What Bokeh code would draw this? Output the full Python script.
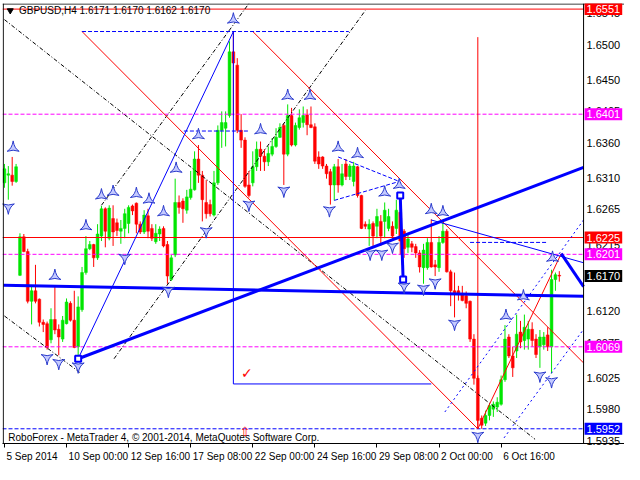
from bokeh.plotting import figure
from bokeh.models import ColumnDataSource, Range1d, FixedTicker, Label, Span, NumeralTickFormatter
from bokeh.core.properties import value
from bokeh.embed import file_html
from bokeh.resources import INLINE
import math

# ---- H4 candles (bar index 0 = 5 Sep 2014 08:00) ----
opens = [1.6303, 1.6314, 1.6314, 1.6305, 1.6171, 1.6226, 1.6205, 1.6134, 1.6149, 1.6137,
         1.6104, 1.6102, 1.6079, 1.6108, 1.6094, 1.6080, 1.6102, 1.6131, 1.6107, 1.6069,
         1.6122, 1.6175, 1.6209, 1.6215, 1.6196, 1.6227, 1.6266, 1.6224, 1.6252, 1.6246,
         1.6234, 1.6238, 1.6245, 1.6270, 1.6274, 1.6244, 1.6233, 1.6256, 1.6238, 1.6219,
         1.6230, 1.6238, 1.6215, 1.6165, 1.6200, 1.6275, 1.6277, 1.6264, 1.6282, 1.6293,
         1.6337, 1.6314, 1.6275, 1.6272, 1.6257, 1.6303, 1.6378, 1.6381, 1.6399, 1.6490,
         1.6471, 1.6378, 1.6364, 1.6300, 1.6303, 1.6326, 1.6351, 1.6341, 1.6333, 1.6344,
         1.6355, 1.6368, 1.6385, 1.6344, 1.6399, 1.6357, 1.6382, 1.6389, 1.6400, 1.6386,
         1.6383, 1.6340, 1.6340, 1.6327, 1.6319, 1.6300, 1.6326, 1.6300, 1.6330, 1.6312,
         1.6305, 1.6326, 1.6285, 1.6244, 1.6237, 1.6245, 1.6241, 1.6248, 1.6248, 1.6238,
         1.6241, 1.6238, 1.6261, 1.6234, 1.6211, 1.6216, 1.6212, 1.6203, 1.6182, 1.6182,
         1.6218, 1.6186, 1.6182, 1.6218, 1.6234, 1.6176, 1.6149, 1.6149, 1.6145, 1.6142,
         1.6134, 1.6080, 1.6024, 1.5967, 1.5960, 1.5971, 1.5980, 1.5983, 1.5987, 1.6022,
         1.6083, 1.6056, 1.6063, 1.6090, 1.6078, 1.6080, 1.6094, 1.6080, 1.6069, 1.6072,
         1.6086, 1.6069, 1.6165, 1.6171]
highs = [1.6330, 1.6327, 1.6340, 1.6330, 1.6231, 1.6230, 1.6209, 1.6156, 1.6186, 1.6138,
         1.6108, 1.6105, 1.6124, 1.6156, 1.6101, 1.6113, 1.6138, 1.6134, 1.6149, 1.6141,
         1.6183, 1.6227, 1.6220, 1.6216, 1.6244, 1.6270, 1.6268, 1.6271, 1.6271, 1.6252,
         1.6250, 1.6266, 1.6271, 1.6272, 1.6275, 1.6248, 1.6264, 1.6266, 1.6244, 1.6244,
         1.6241, 1.6241, 1.6220, 1.6200, 1.6309, 1.6285, 1.6281, 1.6293, 1.6320, 1.6348,
         1.6357, 1.6320, 1.6307, 1.6279, 1.6320, 1.6385, 1.6405, 1.6405, 1.6505, 1.6519,
         1.6481, 1.6401, 1.6368, 1.6320, 1.6348, 1.6362, 1.6362, 1.6351, 1.6355, 1.6367,
         1.6381, 1.6388, 1.6388, 1.6415, 1.6410, 1.6389, 1.6408, 1.6412, 1.6408, 1.6412,
         1.6388, 1.6348, 1.6341, 1.6330, 1.6323, 1.6330, 1.6337, 1.6330, 1.6337, 1.6330,
         1.6333, 1.6327, 1.6286, 1.6248, 1.6251, 1.6248, 1.6266, 1.6257, 1.6275, 1.6266,
         1.6248, 1.6279, 1.6282, 1.6237, 1.6230, 1.6220, 1.6216, 1.6207, 1.6216, 1.6224,
         1.6251, 1.6193, 1.6227, 1.6248, 1.6237, 1.6179, 1.6175, 1.6156, 1.6156, 1.6148,
         1.6135, 1.6087, 1.6028, 1.5971, 1.5978, 1.5987, 1.5991, 1.5997, 1.6028, 1.6100,
         1.6087, 1.6069, 1.6115, 1.6106, 1.6115, 1.6106, 1.6104, 1.6087, 1.6093, 1.6090,
         1.6097, 1.6179, 1.6175, 1.6177]
lows = [1.6296, 1.6279, 1.6299, 1.6303, 1.6170, 1.6204, 1.6131, 1.6101, 1.6131, 1.6098,
        1.6090, 1.6065, 1.6074, 1.6087, 1.6057, 1.6076, 1.6101, 1.6105, 1.6067, 1.6052,
        1.6119, 1.6172, 1.6207, 1.6183, 1.6193, 1.6220, 1.6211, 1.6221, 1.6213, 1.6227,
        1.6216, 1.6224, 1.6231, 1.6257, 1.6231, 1.6230, 1.6230, 1.6224, 1.6220, 1.6216,
        1.6220, 1.6211, 1.6159, 1.6163, 1.6197, 1.6259, 1.6246, 1.6259, 1.6279, 1.6292,
        1.6303, 1.6248, 1.6252, 1.6255, 1.6255, 1.6300, 1.6353, 1.6355, 1.6396, 1.6399,
        1.6374, 1.6353, 1.6296, 1.6282, 1.6298, 1.6320, 1.6320, 1.6320, 1.6327, 1.6341,
        1.6353, 1.6367, 1.6300, 1.6341, 1.6355, 1.6355, 1.6379, 1.6382, 1.6371, 1.6381,
        1.6330, 1.6323, 1.6323, 1.6309, 1.6272, 1.6278, 1.6289, 1.6298, 1.6307, 1.6307,
        1.6298, 1.6282, 1.6237, 1.6237, 1.6213, 1.6213, 1.6224, 1.6213, 1.6224, 1.6234,
        1.6220, 1.6230, 1.6200, 1.6196, 1.6203, 1.6204, 1.6196, 1.6175, 1.6159, 1.6179,
        1.6182, 1.6170, 1.6176, 1.6216, 1.6175, 1.6127, 1.6111, 1.6135, 1.6134, 1.6124,
        1.6076, 1.6015, 1.5952, 1.5952, 1.5956, 1.5964, 1.5969, 1.5976, 1.5985, 1.6019,
        1.6053, 1.6026, 1.6053, 1.6067, 1.6065, 1.6065, 1.6069, 1.6053, 1.6039, 1.6065,
        1.6063, 1.6031, 1.6149, 1.6162]
closes = [1.6323, 1.6316, 1.6305, 1.6326, 1.6226, 1.6205, 1.6134, 1.6149, 1.6134, 1.6104,
          1.6101, 1.6068, 1.6108, 1.6093, 1.6083, 1.6107, 1.6133, 1.6107, 1.6068, 1.6126,
          1.6175, 1.6209, 1.6215, 1.6196, 1.6230, 1.6266, 1.6234, 1.6267, 1.6233, 1.6235,
          1.6238, 1.6259, 1.6268, 1.6263, 1.6244, 1.6233, 1.6257, 1.6234, 1.6224, 1.6231,
          1.6237, 1.6213, 1.6170, 1.6196, 1.6275, 1.6268, 1.6266, 1.6283, 1.6294, 1.6337,
          1.6314, 1.6279, 1.6259, 1.6259, 1.6303, 1.6378, 1.6389, 1.6389, 1.6490, 1.6474,
          1.6378, 1.6364, 1.6298, 1.6285, 1.6326, 1.6351, 1.6341, 1.6333, 1.6345, 1.6355,
          1.6368, 1.6382, 1.6344, 1.6399, 1.6357, 1.6385, 1.6396, 1.6399, 1.6386, 1.6382,
          1.6334, 1.6330, 1.6327, 1.6316, 1.6300, 1.6326, 1.6300, 1.6316, 1.6312, 1.6327,
          1.6327, 1.6285, 1.6238, 1.6241, 1.6244, 1.6227, 1.6255, 1.6227, 1.6264, 1.6255,
          1.6227, 1.6264, 1.6220, 1.6209, 1.6223, 1.6211, 1.6203, 1.6183, 1.6207, 1.6218,
          1.6183, 1.6183, 1.6218, 1.6234, 1.6176, 1.6149, 1.6144, 1.6145, 1.6135, 1.6131,
          1.6080, 1.6024, 1.5964, 1.5957, 1.5971, 1.5985, 1.5987, 1.5990, 1.6022, 1.6080,
          1.6056, 1.6039, 1.6087, 1.6076, 1.6097, 1.6094, 1.6078, 1.6058, 1.6083, 1.6083,
          1.6069, 1.6165, 1.6172, 1.6170]

# ---- axes ----
date_tick_bars = [0, 16, 32, 48, 64, 80, 96, 112, 128]
date_tick_labels = ["5 Sep 2014", "10 Sep 00:00", "12 Sep 16:00", "17 Sep 08:00", "22 Sep 00:00",
                    "24 Sep 16:00", "29 Sep 08:00", "2 Oct 00:00", "6 Oct 16:00"]
# MT4 writes each date to the right of its tick: centre of each label, in bars
date_label_centers = [7.1, 24.2, 40.2, 56.2, 72.2, 88.2, 104.2, 119.2, 135.2]
price_ticks = [1.6545, 1.6500, 1.6450, 1.6405, 1.6360, 1.6310, 1.6265, 1.6215, 1.6170,
               1.6120, 1.6075, 1.6025, 1.5980, 1.5935]
last_bar_edge = 149.25      # right edge of the chart area (price scale starts here)
scale_end = 159.8           # right edge of the price-scale strip

# ---- horizontal levels ----
level_prices = [1.6551, 1.6401, 1.6225, 1.6201, 1.6069, 1.5952]
level_colors = ["#ff0000", "#ff00ff", "#ff0000", "#ff00ff", "#ff00ff", "#0000ff"]
level_dashes = ["solid", "4 2", "solid", "4 2", "4 2", "4 2"]
current_price = 1.6170

# ---- drawn objects (bar index, price) ----
blk_x0 = [0, 0, 25, 28.25]
blk_y0 = [1.6536, 1.6113, 1.6271, 1.6052]
blk_x1 = [136.75, 19.75, 63, 93]
blk_y1 = [1.5937, 1.6031, 1.6559, 1.6549]

red_x0 = [20, 64, 122, 122]
red_y0 = [1.6519, 1.6519, 1.5952, 1.6511]
red_x1 = [122, 149.25, 143.5, 122]
red_y1 = [1.5952, 1.6046, 1.6202, 1.5952]

bthin_x0 = [19, 59, 59, 110]
bthin_y0 = [1.6052, 1.6519, 1.6016, 1.6250]
bthin_x1 = [59, 59, 110, 149.25]
bthin_y1 = [1.6519, 1.6016, 1.6016, 1.6189]

bthick_x0 = [-0.25, 19, 143.5, 102]
bthick_y0 = [1.6157, 1.6052, 1.6202, 1.6285]
bthick_x1 = [149.25, 149.25, 149.25, 102.75]
bthick_y1 = [1.6141, 1.6325, 1.6155, 1.6165]

bdash_x0 = [20, 46.25, 120, 86, 85]
bdash_y0 = [1.6519, 1.6377, 1.6218, 1.6340, 1.6278]
bdash_x1 = [88.75, 63, 140, 101.75, 101.75]
bdash_y1 = [1.6519, 1.6377, 1.6218, 1.6305, 1.6305]

bdot_x0 = [113.5, 128.75]
bdot_y0 = [1.5976, 1.5939]
bdot_x1 = [149.25, 149.25]
bdot_y1 = [1.6250, 1.6094]

handle_x = [19, 102, 102.75]
handle_y = [1.6052, 1.6285, 1.6165]

frac_up_x = [2.25, 13, 21, 25, 28, 34, 37.25, 41, 44.25, 50, 59, 66, 73, 78.75, 86, 91, 98,
             101.75, 110, 113, 129.25, 133.75, 141.25]
frac_up_y = [1.6353, 1.6170, 1.6241, 1.6285, 1.6290, 1.6287, 1.6279, 1.6261, 1.6323, 1.6371,
             1.6536, 1.6378, 1.6427, 1.6427, 1.6353, 1.6344, 1.6289, 1.6300, 1.6264, 1.6261,
             1.6113, 1.6141, 1.6196]
frac_dn_x = [1, 11, 14, 19, 31, 42.25, 52, 63, 72, 83.75, 94.25, 97.25, 100, 103, 108, 111,
             116, 122, 138, 141]
frac_dn_y = [1.6268, 1.6053, 1.6046, 1.6041, 1.6196, 1.6149, 1.6234, 1.6272, 1.6292, 1.6264,
             1.6202, 1.6202, 1.6212, 1.6155, 1.6152, 1.6161, 1.6102, 1.5942, 1.6028, 1.6020]

FONT = "Liberation Sans"

n = len(opens)
bars = list(range(n))
up = [c >= o for o, c in zip(opens, closes)]
colors = ["#00e600" if u else "#ff0000" for u in up]
tops = [max(o, c) + (0.00002 if abs(o - c) < 0.00002 else 0) for o, c in zip(opens, closes)]
bots = [min(o, c) for o, c in zip(opens, closes)]
src = ColumnDataSource(dict(x=bars, o=opens, h=highs, l=lows, c=closes,
                            top=tops, bot=bots, color=colors))

p = figure(width=624, height=464, output_backend="svg", toolbar_location=None,
           x_range=Range1d(-0.5, scale_end), y_range=Range1d(1.5931, 1.6559),
           y_axis_location="right", min_border_left=2, min_border_top=3,
           min_border_right=0, min_border_bottom=0)
p.background_fill_color = "white"
p.border_fill_color = "white"
p.outline_line_color = None
p.xgrid.visible = False
p.ygrid.visible = False

p.xaxis.ticker = FixedTicker(ticks=date_label_centers, minor_ticks=date_tick_bars)
p.xaxis.major_label_overrides = {c: t for c, t in zip(date_label_centers, date_tick_labels)}
p.xaxis.major_label_text_font = FONT
p.xaxis.major_label_text_font_size = "10px"
p.xaxis.major_label_standoff = 3
p.xaxis.major_tick_in = 0
p.xaxis.major_tick_out = 0
p.xaxis.minor_tick_out = 4
p.xaxis.minor_tick_in = 0
p.xaxis.minor_tick_line_color = "black"
p.xaxis.axis_line_color = "black"
p.xaxis.major_label_text_color = "black"

# price scale: labels drawn back into the strip right of the chart area
p.yaxis.ticker = FixedTicker(ticks=price_ticks)
p.yaxis.formatter = NumeralTickFormatter(format="0.0000")
p.yaxis.major_label_text_font = FONT
p.yaxis.major_label_text_font_size = "11px"
p.yaxis.major_label_standoff = -38
p.yaxis.major_tick_in = 0
p.yaxis.major_tick_out = 0
p.yaxis.minor_tick_out = 0
p.yaxis.minor_tick_in = 0
p.yaxis.axis_line_color = None
p.yaxis.major_label_text_color = "black"

# chart borders
p.add_layout(Span(location=last_bar_edge, dimension="height", line_color="black", line_width=1))
p.add_layout(Span(location=-0.3, dimension="height", line_color="black", line_width=1))
p.add_layout(Span(location=1.65583, dimension="width", line_color="black", line_width=1))

# candles
p.segment(x0="x", y0="l", x1="x", y1="h", color="color", line_width=1, source=src)
p.vbar(x="x", top="top", bottom="bot", width=0.72, fill_color="color",
       line_color="color", line_width=0.5, source=src)

# horizontal levels
for lv, col, ds in zip(level_prices, level_colors, level_dashes):
    p.segment([-0.5], [lv], [last_bar_edge], [lv], line_color=col, line_width=1, line_dash=ds)

# drawn lines
p.segment(blk_x0, blk_y0, blk_x1, blk_y1, line_color="black", line_width=1, line_dash="4 2 1 2")
p.segment(red_x0, red_y0, red_x1, red_y1, line_color="#ff0000", line_width=1)
p.segment(bthin_x0, bthin_y0, bthin_x1, bthin_y1, line_color="#0000ff", line_width=1)
p.segment(bdash_x0, bdash_y0, bdash_x1, bdash_y1, line_color="#0000ff", line_width=1, line_dash="4 2")
p.segment(bdot_x0, bdot_y0, bdot_x1, bdot_y1, line_color="#0000ff", line_width=1, line_dash="2 3")
p.segment(bthick_x0, bthick_y0, bthick_x1, bthick_y1, line_color="#0000ff", line_width=3)
p.scatter(handle_x, handle_y, marker="square", size=6, fill_color="white",
          line_color="#0000ff", line_width=2)

# fractals (arrow-head markers)
p.scatter(frac_up_x, frac_up_y, marker="triangle_pin", size=12, fill_color="#c4caff",
          line_color="#2a3acc", line_width=1)
p.scatter(frac_dn_x, frac_dn_y, marker="triangle_pin", angle=math.pi, size=12,
          fill_color="#c4caff", line_color="#2a3acc", line_width=1)

# small symbols
p.text(x=[62.5], y=[1.6032], text=["\u2713"], text_color="#ff0000", text_font_size="14px",
       text_font=value("DejaVu Sans"), text_align="center", text_baseline="middle")
p.text(x=[62], y=[1.5948], text=["\u21e7"], text_color="#ff0000", text_font_size="13px",
       text_font=value("DejaVu Sans"), text_align="center", text_baseline="middle")

# header and footer text
p.scatter([1.5], [1.6549], marker="inverted_triangle", size=6, color="black")
p.add_layout(Label(x=3.75, y=1.6549, text="GBPUSD,H4  1.6171 1.6170 1.6162 1.6170",
                   text_font=FONT, text_font_size="10px", text_baseline="middle",
                   text_color="black"))
p.add_layout(Label(x=1, y=1.5939,
                   text="RoboForex - MetaTrader 4, \u00a9 2001-2014, MetaQuotes Software Corp.",
                   text_font=FONT, text_font_size="10px", text_baseline="middle",
                   text_color="black"))

# price-scale boxes
box_prices = level_prices + [current_price]
box_colors = level_colors + ["#000000"]
for pr, col in zip(box_prices, box_colors):
    p.add_layout(Label(x=last_bar_edge, y=pr, x_offset=1, text=f"{pr:.4f}", text_font=FONT,
                       text_font_size="11px", text_baseline="middle", text_color="white",
                       background_fill_color=col, padding=2))

open("out.html", "w").write(file_html(p, INLINE))
